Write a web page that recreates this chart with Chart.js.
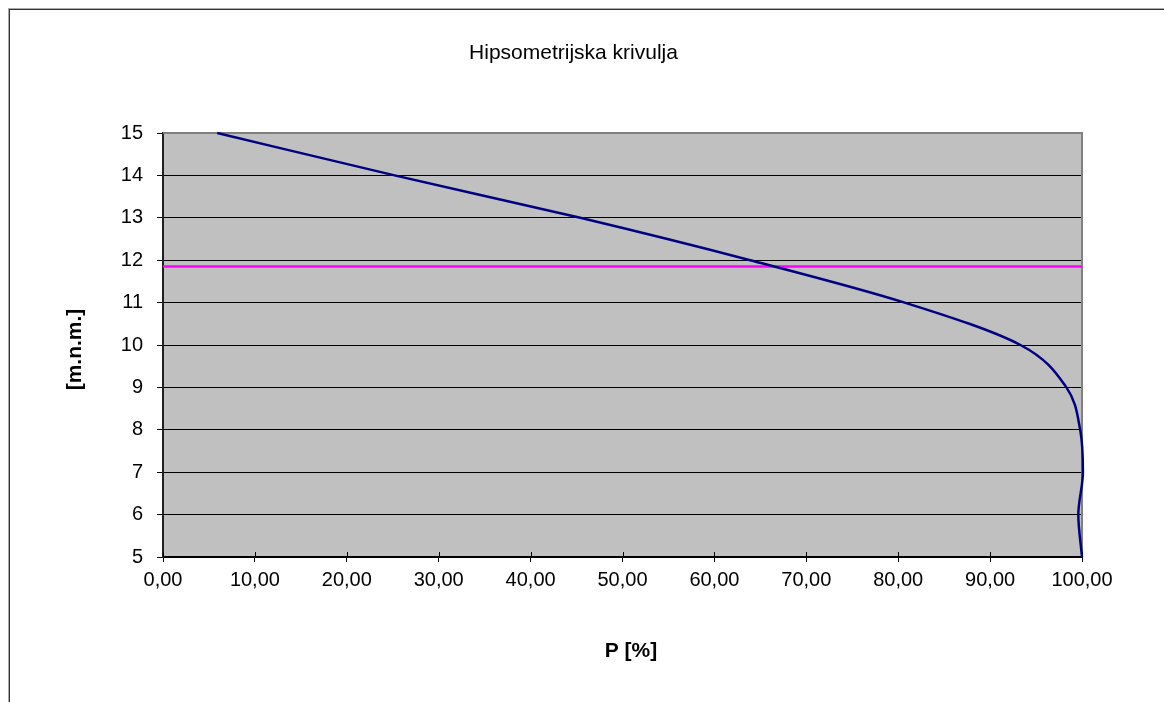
<!DOCTYPE html>
<html>
<head>
<meta charset="utf-8">
<script src="https://cdn.jsdelivr.net/npm/chart.js@4"></script>
<style>
  html, body { margin: 0; padding: 0; background: #ffffff; }
  #wrap { position: relative; width: 1164px; height: 702px; overflow: hidden; }
  #frame { position: absolute; left: 9px; top: 9px; width: 1200px; height: 800px;
           border-top: 1px solid #333; border-left: 1px solid #333; box-shadow: -1px -1px 0 #aaa; }
  canvas { position: absolute; left: 0; top: 0; }
</style>
</head>
<body>
<div id="wrap">
  <div id="frame"></div>
  <canvas id="c" width="1164" height="702"></canvas>
</div>
<script>
// ---- data ----
const chartTitle = 'Hipsometrijska krivulja';
const xAxisTitle = 'P [%]';
const yAxisTitle = '[m.n.m.]';
const elevations = [15, 14, 13, 12, 11, 10, 9, 8, 7, 6, 5];            // m.n.m.
const percents   = [5.9, 25.2, 45.4, 63.9, 80.7, 93.3, 98.3, 99.8, 100.1, 99.6, 100.0]; // P [%]
const markerLevel = 11.85;                                               // magenta reference level
const markerSpan  = [0, 100];
const xTickMin = 0, xTickMax = 100, xTickStep = 10;
const yTickMin = 5, yTickMax = 15, yTickStep = 1;

const FONT = '"Liberation Sans", Arial, sans-serif';

const curvePoints = elevations.map((e, i) => ({ x: percents[i], y: e }));
const markerPoints = markerSpan.map(x => ({ x: x, y: markerLevel }));

const framePlugin = {
  id: 'framePlugin',
  beforeDraw(chart) {
    const { ctx, chartArea: a } = chart;
    ctx.save();
    ctx.fillStyle = '#C0C0C0';
    ctx.fillRect(a.left, a.top, a.right - a.left, a.bottom - a.top);
    ctx.restore();
  },
  beforeDatasetsDraw(chart) {
    const { ctx, chartArea: a, scales } = chart;
    ctx.save();
    ctx.strokeStyle = '#808080';
    ctx.lineWidth = 2;
    ctx.beginPath();
    ctx.moveTo(a.left, a.top);
    ctx.lineTo(a.right, a.top);
    ctx.lineTo(a.right, a.bottom);
    ctx.stroke();
    ctx.strokeStyle = '#000';
    ctx.lineWidth = 1;
    ctx.beginPath();
    for (let v = xTickMin; v <= xTickMax; v += xTickStep) {
      const px = Math.round(scales.x.getPixelForValue(v)) + 0.5;
      ctx.moveTo(px, a.bottom - 5);
      ctx.lineTo(px, a.bottom);
    }
    ctx.stroke();
    ctx.restore();
  },
  afterDraw(chart) {
    const { ctx } = chart;
    ctx.save();
    ctx.fillStyle = '#000';
    ctx.textBaseline = 'alphabetic';
    ctx.textAlign = 'center';
    ctx.font = '21px ' + FONT;
    ctx.fillText(chartTitle, 573.5, 59);
    ctx.font = 'bold 21px ' + FONT;
    ctx.fillText(xAxisTitle, 631, 657);
    ctx.translate(81, 349.5);
    ctx.rotate(-Math.PI / 2);
    ctx.fillText(yAxisTitle, 0, 0);
    ctx.restore();
  }
};

new Chart(document.getElementById('c'), {
  type: 'line',
  data: {
    datasets: [
      {
        label: 'curve',
        data: curvePoints,
        borderColor: '#000080',
        borderWidth: 2.5,
        pointRadius: 0,
        cubicInterpolationMode: 'monotone',
        capBezierPoints: false,
        clip: 3,
        fill: false
      },
      {
        label: 'level',
        data: markerPoints,
        borderColor: '#FF00FF',
        borderWidth: 2.5,
        pointRadius: 0,
        tension: 0,
        fill: false
      }
    ]
  },
  options: {
    indexAxis: 'y',
    responsive: false,
    devicePixelRatio: 1,
    animation: false,
    layout: { padding: { top: 133, right: 82, left: 0, bottom: 0 } },
    plugins: {
      legend: { display: false },
      title: { display: false },
      tooltip: { enabled: false }
    },
    scales: {
      x: {
        type: 'linear',
        position: 'bottom',
        min: xTickMin, max: xTickMax,
        afterFit(s) { s.height = 145; },
        ticks: {
          stepSize: xTickStep,
          color: '#000',
          font: { family: FONT, size: 20 },
          padding: 6,
          maxRotation: 0,
          callback: v => v.toFixed(2).replace('.', ',')
        },
        grid: { drawOnChartArea: false, drawTicks: true, tickLength: 5, color: '#000', lineWidth: 1 },
        border: { display: true, color: '#000', width: 2 }
      },
      y: {
        type: 'linear',
        position: 'left',
        min: yTickMin, max: yTickMax,
        afterFit(s) { s.width = 163; },
        ticks: {
          stepSize: yTickStep,
          color: '#000',
          font: { family: FONT, size: 20 },
          padding: 14
        },
        grid: { drawOnChartArea: true, drawTicks: true, tickLength: 6, color: '#000', lineWidth: 1 },
        border: { display: true, color: '#202020', width: 2 }
      }
    }
  },
  plugins: [framePlugin]
});
</script>
</body>
</html>
